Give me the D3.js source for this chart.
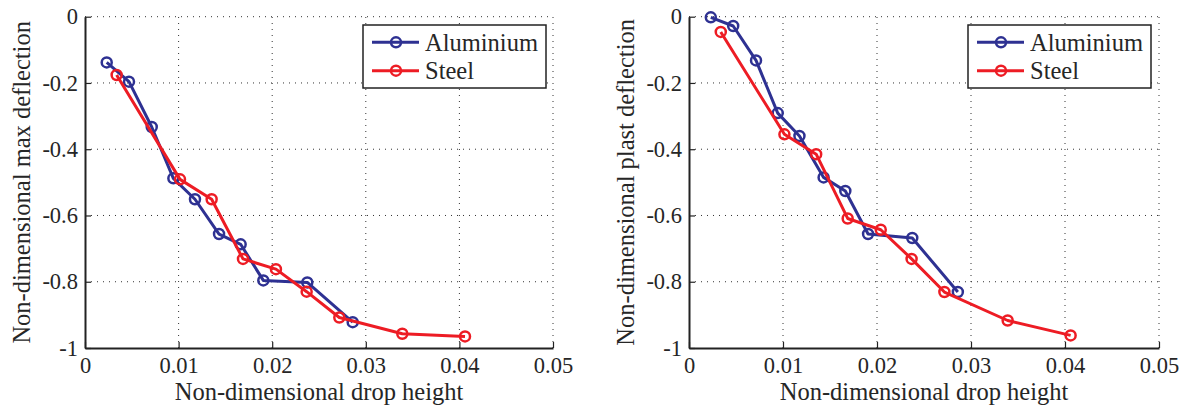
<!DOCTYPE html>
<html>
<head>
<meta charset="utf-8">
<script src="https://cdn.jsdelivr.net/npm/d3@7"></script>
<style>
  body { margin: 0; background: #fff; }
</style>
</head>
<body>
<div id="chart"></div>
<script>
// drop height (non-dimensional)
const alX = [0.00232, 0.0047, 0.00713, 0.00944, 0.01175, 0.01432, 0.01663, 0.01905, 0.02375, 0.0286];
const stX = [0.00338, 0.01015, 0.01353, 0.01688, 0.0204, 0.02368, 0.02717, 0.0339, 0.0406];

// left panel: max deflection
const alMax = [-0.138, -0.196, -0.333, -0.488, -0.551, -0.656, -0.687, -0.796, -0.802, -0.922];
const stMax = [-0.176, -0.491, -0.551, -0.731, -0.762, -0.830, -0.908, -0.957, -0.965];

// right panel: plastic deflection
const alPlast = [-0.002, -0.028, -0.132, -0.291, -0.360, -0.485, -0.526, -0.656, -0.668, -0.831];
const stPlast = [-0.046, -0.355, -0.415, -0.609, -0.643, -0.731, -0.831, -0.917, -0.962];

const xTicks = [0, 0.01, 0.02, 0.03, 0.04, 0.05];
const yTicks = [-1, -0.8, -0.6, -0.4, -0.2, 0];
const seriesNames = ["Aluminium", "Steel"];
const colors = ["#2e3192", "#ed1c24"];
const FONT = '"Liberation Serif", "Times New Roman", serif';
const TXT = "#262626";

const svg = d3.select("#chart").append("svg")
    .attr("width", 1185)
    .attr("height", 408)
    .attr("font-family", FONT);

function drawPanel(opts) {
    let x = d3.scaleLinear().domain([0, 0.05]).range([opts.left, opts.right]);
    let y = d3.scaleLinear().domain([-1, 0]).range([348, 16.7]);
    let g = svg.append("g");

    // dotted grid
    g.selectAll("line.gx")
        .data(xTicks.slice(1))
        .enter().append("line")
        .attr("x1", d => x(d)).attr("x2", d => x(d))
        .attr("y1", y(-1)).attr("y2", y(0))
        .attr("stroke", "#333").attr("stroke-width", 1)
        .attr("stroke-dasharray", "1,5");
    g.selectAll("line.gy")
        .data(yTicks.slice(1))
        .enter().append("line")
        .attr("y1", d => y(d)).attr("y2", d => y(d))
        .attr("x1", x(0)).attr("x2", x(0.05))
        .attr("stroke", "#333").attr("stroke-width", 1)
        .attr("stroke-dasharray", "1,5");

    // axes, ticks pointing inward
    let xAxis = d3.axisBottom(x).tickValues(xTicks).tickSizeInner(-6).tickSizeOuter(0)
        .tickPadding(9).tickFormat(d => d === 0 ? "0" : d3.format(".2f")(d));
    let yAxis = d3.axisLeft(y).tickValues(yTicks).tickSizeInner(-6).tickSizeOuter(0)
        .tickPadding(7).tickFormat(d => d === 0 ? "0" : d === -1 ? "-1" : d3.format(".1f")(d).replace("−", "-"));

    let gx = g.append("g").attr("transform", `translate(0,${y(-1)})`).call(xAxis);
    let gy = g.append("g").attr("transform", `translate(${x(0)},0)`).call(yAxis);
    [gx, gy].forEach(a => {
        a.attr("font-family", FONT).attr("font-size", 22.5);
        a.select(".domain").attr("stroke", "#222").attr("stroke-width", 2);
        a.selectAll(".tick line").attr("stroke", "#222").attr("stroke-width", 1.2);
        a.selectAll("text").attr("fill", TXT);
    });
    gx.selectAll("text").attr("dy", "0.71em");

    // series
    let line = d3.line().x(d => x(d[0])).y(d => y(d[1]));
    opts.series.forEach((s, i) => {
        let pts = s.xs.map((v, k) => [v, s.ys[k]]);
        g.append("path").datum(pts)
            .attr("d", line)
            .attr("fill", "none")
            .attr("stroke", colors[i])
            .attr("stroke-width", 3)
            .attr("stroke-linejoin", "round");
        g.selectAll(null).data(pts).enter().append("circle")
            .attr("cx", d => x(d[0])).attr("cy", d => y(d[1]))
            .attr("r", 5)
            .attr("fill", "none")
            .attr("stroke", colors[i])
            .attr("stroke-width", 2.5);
    });

    // axis labels
    g.append("text")
        .attr("x", (x(0) + x(0.05)) / 2)
        .attr("y", 400)
        .attr("text-anchor", "middle")
        .attr("font-size", 24.5)
        .attr("fill", TXT)
        .text("Non-dimensional drop height");
    g.append("text")
        .attr("transform", `translate(${opts.ylabelX},${(y(0) + y(-1)) / 2}) rotate(-90)`)
        .attr("text-anchor", "middle")
        .attr("font-size", 24.5)
        .attr("fill", TXT)
        .text(opts.ylabel);

    // legend
    let lx = opts.legendX, ly = 25, lw = 183, lh = 63;
    let lg = g.append("g");
    lg.append("rect")
        .attr("x", lx).attr("y", ly).attr("width", lw).attr("height", lh)
        .attr("fill", "#fff").attr("stroke", "#222").attr("stroke-width", 1.5);
    seriesNames.forEach((name, i) => {
        let cy = ly + 17.3 + i * 28.4;
        lg.append("line")
            .attr("x1", lx + 9).attr("x2", lx + 56)
            .attr("y1", cy).attr("y2", cy)
            .attr("stroke", colors[i]).attr("stroke-width", 3);
        lg.append("circle")
            .attr("cx", lx + 33).attr("cy", cy).attr("r", 5)
            .attr("fill", "none").attr("stroke", colors[i]).attr("stroke-width", 2.5);
        lg.append("text")
            .attr("x", lx + 62).attr("y", cy)
            .attr("dy", "0.35em")
            .attr("font-size", 24.5)
            .attr("fill", TXT)
            .text(name);
    });
}

drawPanel({
    left: 85, right: 553, ylabelX: 30, legendX: 363,
    ylabel: "Non-dimensional max deflection",
    series: [{ xs: alX, ys: alMax }, { xs: stX, ys: stMax }]
});
drawPanel({
    left: 689, right: 1159, ylabelX: 634, legendX: 968,
    ylabel: "Non-dimensional plast deflection",
    series: [{ xs: alX, ys: alPlast }, { xs: stX, ys: stPlast }]
});
</script>
</body>
</html>
